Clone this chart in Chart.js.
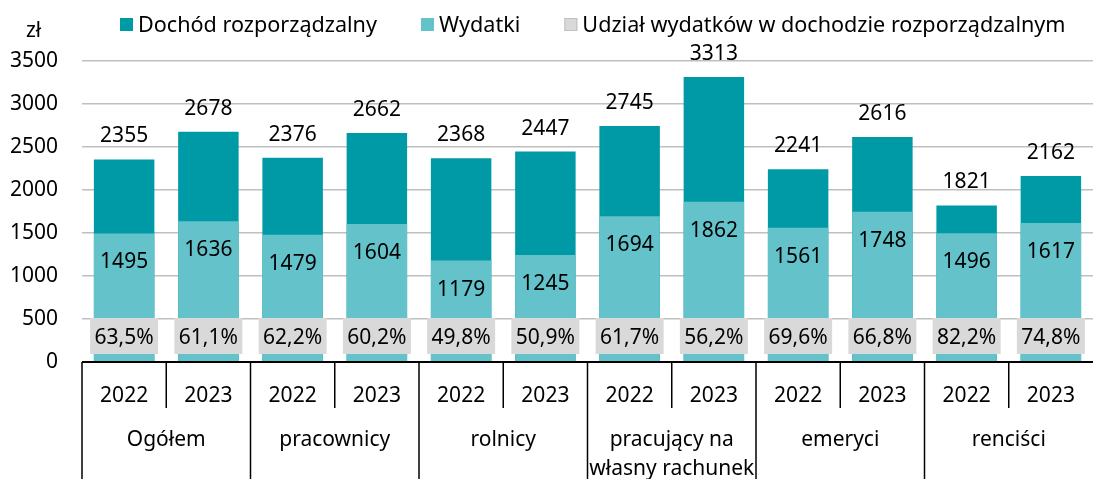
<!DOCTYPE html>
<html>
<head>
<meta charset="utf-8">
<script src="https://cdn.jsdelivr.net/npm/chart.js@4.4.0/dist/chart.umd.min.js"></script>
<style>
html, body { margin: 0; padding: 0; background: #fff; }
#wrap { width: 1093px; height: 479px; }
</style>
</head>
<body>
<div id="wrap"><canvas id="chart"></canvas></div>
<script>
const groups = ['Ogółem', 'pracownicy', 'rolnicy', ['pracujący na', 'własny rachunek'], 'emeryci', 'renciści'];
const years = ['2022', '2023'];
const dochod = [2355, 2678, 2376, 2662, 2368, 2447, 2745, 3313, 2241, 2616, 1821, 2162];
const wydatki = [1495, 1636, 1479, 1604, 1179, 1245, 1694, 1862, 1561, 1748, 1496, 1617];
const udzial = [63.5, 61.1, 62.2, 60.2, 49.8, 50.9, 61.7, 56.2, 69.6, 66.8, 82.2, 74.8];
const yMax = 3500;
const yStep = 500;
const unit = 'zł';

const FONT = '"Noto Sans", sans-serif';
const DARK = '#009aa6';
const LIGHT = '#64c2ca';
const GREY = '#d9d9d9';

// one category per (group, year)
const labels = [];
groups.forEach(g => years.forEach(y => labels.push([].concat(g).join(' ') + ' ' + y)));

const fmtPct = v => v.toFixed(1).replace('.', ',') + '%';

const overlayPlugin = {
    id: 'overlay',
    afterDatasetsDraw(chart) {
        const { ctx } = chart;
        const y = chart.scales.y;
        const dMeta = chart.getDatasetMeta(0);
        const wMeta = chart.getDatasetMeta(1);
        ctx.save();
        ctx.font = '21px ' + FONT;
        ctx.fillStyle = '#000';
        ctx.textAlign = 'center';
        ctx.textBaseline = 'alphabetic';

        dMeta.data.forEach((bar, i) => {
            ctx.fillText(String(dochod[i]), bar.x, bar.y - 17);
        });
        wMeta.data.forEach((bar, i) => {
            ctx.fillText(String(wydatki[i]), bar.x, bar.y + 35);
        });

        // share boxes near the bottom of the bars
        const share = chart.data.datasets[2];
        wMeta.data.forEach((bar, i) => {
            const cy = y.bottom - 26;
            ctx.fillStyle = share.backgroundColor;
            ctx.fillRect(bar.x - 34, cy - 18, 68, 36);
            ctx.fillStyle = '#000';
            ctx.fillText(fmtPct(udzial[i]), bar.x, cy + 8);
        });
        ctx.restore();
    },
    afterDraw(chart) {
        const { ctx, chartArea } = chart;
        const x = chart.scales.x;
        const base = chartArea.bottom;
        const H = chart.height;
        const step = x.getPixelForValue(1) - x.getPixelForValue(0);
        ctx.save();

        // axis line
        ctx.strokeStyle = '#000';
        ctx.lineWidth = 2;
        ctx.beginPath();
        ctx.moveTo(chartArea.left, base);
        ctx.lineTo(chartArea.right, base);
        ctx.stroke();

        // separators
        ctx.lineWidth = 1.5;
        for (let i = 0; i < labels.length; i++) {
            const lx = x.getPixelForValue(i) - step / 2;
            ctx.beginPath();
            ctx.moveTo(lx, base);
            ctx.lineTo(lx, i % years.length === 0 ? H : base + 46);
            ctx.stroke();
        }

        // year + group labels
        ctx.fillStyle = '#000';
        ctx.font = '21px ' + FONT;
        ctx.textAlign = 'center';
        ctx.textBaseline = 'alphabetic';
        for (let i = 0; i < labels.length; i++) {
            ctx.fillText(years[i % years.length], x.getPixelForValue(i), base + 40);
        }
        groups.forEach((g, gi) => {
            const cx = (x.getPixelForValue(gi * 2) + x.getPixelForValue(gi * 2 + 1)) / 2;
            [].concat(g).forEach((line, li) => {
                ctx.fillText(line, cx, base + 84 + li * 29);
            });
        });

        // unit
        ctx.textAlign = 'left';
        ctx.fillText(unit, 26, 37);

        // legend
        ctx.font = '21.6px ' + FONT;
        let lx = 120;
        chart.data.datasets.forEach(ds => {
            ctx.fillStyle = ds.backgroundColor;
            ctx.fillRect(lx, 18, 13, 13);
            if (ds.borderColor && ds.type === 'line') {
                ctx.strokeStyle = ds.borderColor;
                ctx.lineWidth = 1;
                ctx.strokeRect(lx + 0.5, 18.5, 12, 12);
            }
            ctx.fillStyle = '#000';
            ctx.fillText(ds.label, lx + 18, 32);
            lx += 18 + ctx.measureText(ds.label).width + 44;
        });
        ctx.restore();
    }
};

new Chart(document.getElementById('chart'), {
    type: 'bar',
    data: {
        labels: labels,
        datasets: [
            {
                label: 'Dochód rozporządzalny',
                data: dochod,
                backgroundColor: DARK,
                grouped: false,
                order: 2
            },
            {
                label: 'Wydatki',
                data: wydatki,
                backgroundColor: LIGHT,
                grouped: false,
                order: 1
            },
            {
                type: 'line',
                label: 'Udział wydatków w dochodzie rozporządzalnym',
                data: udzial,
                yAxisID: 'yShare',
                backgroundColor: GREY,
                borderColor: '#bfbfbf',
                showLine: false,
                pointRadius: 0,
                order: 0
            }
        ]
    },
    options: {
        responsive: true,
        maintainAspectRatio: false,
        animation: false,
        layout: { padding: { top: 61, right: -9, bottom: 117, left: 0 } },
        datasets: {
            bar: { barPercentage: 0.718, categoryPercentage: 1, borderWidth: 0 }
        },
        plugins: {
            legend: { display: false },
            tooltip: { enabled: false }
        },
        scales: {
            x: {
                ticks: { display: false },
                grid: { display: false },
                border: { display: false },
                afterFit: s => { s.height = 0; }
            },
            y: {
                min: 0,
                max: yMax,
                ticks: {
                    stepSize: yStep,
                    color: '#000',
                    padding: 24,
                    font: { family: FONT, size: 21 },
                    callback: v => String(v)
                },
                grid: { color: '#bfbfbf', lineWidth: 1.5, drawTicks: false },
                border: { display: false },
                afterFit: s => { s.width = 82; }
            },
            yShare: { display: false, min: 0, max: 100 }
        }
    },
    plugins: [overlayPlugin]
});
</script>
</body>
</html>
